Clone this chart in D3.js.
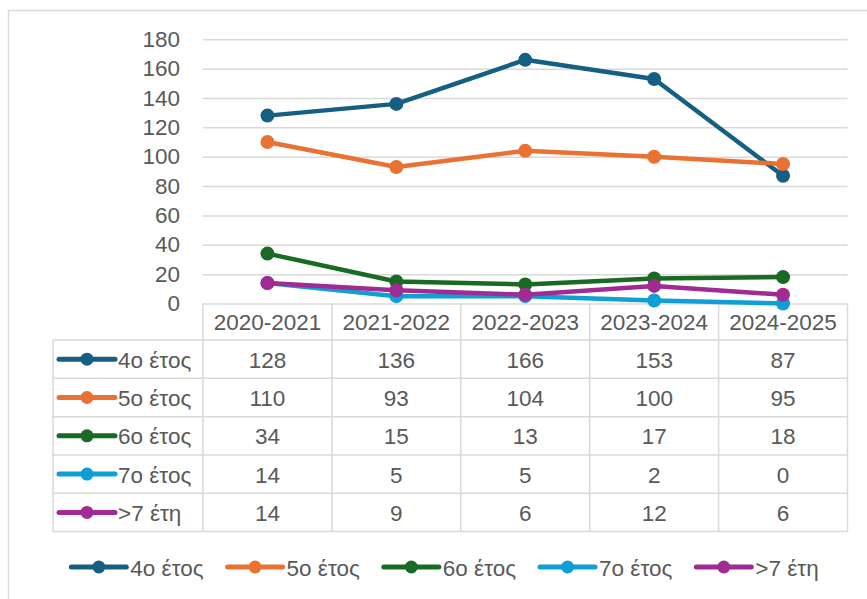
<!DOCTYPE html>
<html>
<head>
<meta charset="utf-8">
<script src="https://cdn.jsdelivr.net/npm/d3@7/dist/d3.min.js"></script>
<style>
  html, body { margin: 0; padding: 0; background: #fff; }
  svg { display: block; }
  text { font-family: "Liberation Sans", Arial, sans-serif; fill: #595959; }
</style>
</head>
<body>
<svg id="chart" width="867" height="599"></svg>
<script>
const categories = ["2020-2021", "2021-2022", "2022-2023", "2023-2024", "2024-2025"];
const seriesNames = ["4o έτος", "5o έτος", "6o έτος", "7o έτος", ">7 έτη"];
const values4 = [128, 136, 166, 153, 87];
const values5 = [110, 93, 104, 100, 95];
const values6 = [34, 15, 13, 17, 18];
const values7 = [14, 5, 5, 2, 0];
const valuesOver7 = [14, 9, 6, 12, 6];
const seriesColors = ["#156082", "#E97132", "#196B24", "#0F9ED5", "#A02B93"];
const yTicks = [0, 20, 40, 60, 80, 100, 120, 140, 160, 180];

const series = seriesNames.map((name, i) => ({
  name,
  color: seriesColors[i],
  values: [values4, values5, values6, values7, valuesOver7][i]
}));

const svg = d3.select("#chart");
const gridColor = "#d9d9d9";
const fontSize = 22.5;

// outer frame (left & top visible)
svg.append("rect")
  .attr("x", 8.5).attr("y", 10.5)
  .attr("width", 900).attr("height", 700)
  .attr("fill", "none").attr("stroke", gridColor).attr("stroke-width", 1.5);

const plotLeft = 203, plotRight = 847.5, plotTop = 39.3, plotBottom = 303.5;
const tableLeft = 53;

const x = d3.scaleBand().domain(categories).range([plotLeft, plotRight]);
const cx = c => x(c) + x.bandwidth() / 2;
const y = d3.scaleLinear().domain([0, 180]).range([plotBottom, plotTop]);

// gridlines + y labels
const yAxis = d3.axisLeft(y)
  .tickValues(yTicks)
  .tickSize(-(plotRight - plotLeft))
  .tickPadding(23)
  .tickFormat(d3.format("d"));
const gy = svg.append("g").attr("transform", `translate(${plotLeft},0)`).call(yAxis);
gy.select(".domain").remove();
gy.selectAll(".tick line").attr("stroke", gridColor).attr("stroke-width", 1.5);
gy.selectAll(".tick text")
  .attr("font-size", fontSize)
  .attr("fill", "#595959")
  .attr("font-family", "Liberation Sans, Arial, sans-serif");

// table
const rowH = (531.6 - 340) / 5;
const headerTop = plotBottom, headerBottom = 340;
const rowY = d3.scaleLinear().domain([0, 5]).range([headerBottom, headerBottom + 5 * rowH]);
const table = svg.append("g");
// horizontal lines
d3.range(0, 6).forEach(i => {
  table.append("line")
    .attr("x1", tableLeft).attr("x2", plotRight)
    .attr("y1", rowY(i)).attr("y2", rowY(i))
    .attr("stroke", gridColor).attr("stroke-width", 1.5);
});
// vertical lines
table.append("line")
  .attr("x1", tableLeft).attr("x2", tableLeft)
  .attr("y1", rowY(0)).attr("y2", rowY(5))
  .attr("stroke", gridColor).attr("stroke-width", 1.5);
categories.concat([null]).forEach((c, i) => {
  const xx = c === null ? plotRight : x(c);
  table.append("line")
    .attr("x1", xx).attr("x2", xx)
    .attr("y1", headerTop).attr("y2", rowY(5))
    .attr("stroke", gridColor).attr("stroke-width", 1.5);
});
// header texts
categories.forEach(c => {
  table.append("text")
    .attr("x", cx(c)).attr("y", (headerTop + headerBottom) / 2 + 1)
    .attr("text-anchor", "middle").attr("dominant-baseline", "central")
    .attr("font-size", fontSize).text(c);
});
// rows
series.forEach((s, i) => {
  const yc = (rowY(i) + rowY(i + 1)) / 2 + 1;
  const kx1 = 59, kx2 = 115;
  table.append("line")
    .attr("x1", kx1).attr("x2", kx2).attr("y1", yc - 1).attr("y2", yc - 1)
    .attr("stroke", s.color).attr("stroke-width", 5).attr("stroke-linecap", "round");
  table.append("circle")
    .attr("cx", (kx1 + kx2) / 2).attr("cy", yc - 1).attr("r", 6.5).attr("fill", s.color);
  table.append("text")
    .attr("x", 118).attr("y", yc).attr("dominant-baseline", "central")
    .attr("font-size", fontSize).text(s.name);
  s.values.forEach((v, j) => {
    table.append("text")
      .attr("x", cx(categories[j])).attr("y", yc)
      .attr("text-anchor", "middle").attr("dominant-baseline", "central")
      .attr("font-size", fontSize).text(v);
  });
});

// lines
const line = d3.line().x((d, j) => cx(categories[j])).y(d => y(d));
series.forEach(s => {
  const g = svg.append("g");
  g.append("path").datum(s.values)
    .attr("d", line).attr("fill", "none")
    .attr("stroke", s.color).attr("stroke-width", 4.5)
    .attr("stroke-linejoin", "round").attr("stroke-linecap", "round");
  g.selectAll("circle").data(s.values).join("circle")
    .attr("cx", (d, j) => cx(categories[j])).attr("cy", d => y(d))
    .attr("r", 7).attr("fill", s.color);
});

// legend
const legend = svg.append("g");
const legendY = 567;
const keyLen = 55, keyGap = 4, itemGap = 24;
let items = series.map(s => {
  const g = legend.append("g");
  g.append("line").attr("x1", 0).attr("x2", keyLen).attr("y1", 0).attr("y2", 0)
    .attr("stroke", s.color).attr("stroke-width", 5).attr("stroke-linecap", "round");
  g.append("circle").attr("cx", keyLen / 2).attr("cy", 0).attr("r", 6.5).attr("fill", s.color);
  const t = g.append("text").attr("x", keyLen + keyGap).attr("y", 1)
    .attr("dominant-baseline", "central").attr("font-size", fontSize).text(s.name);
  return { g, w: keyLen + keyGap + t.node().getComputedTextLength() };
});
const totalW = d3.sum(items, d => d.w) + itemGap * (items.length - 1);
let lx = 445 - totalW / 2;
items.forEach(it => {
  it.g.attr("transform", `translate(${lx},${legendY})`);
  lx += it.w + itemGap;
});
</script>
</body>
</html>
